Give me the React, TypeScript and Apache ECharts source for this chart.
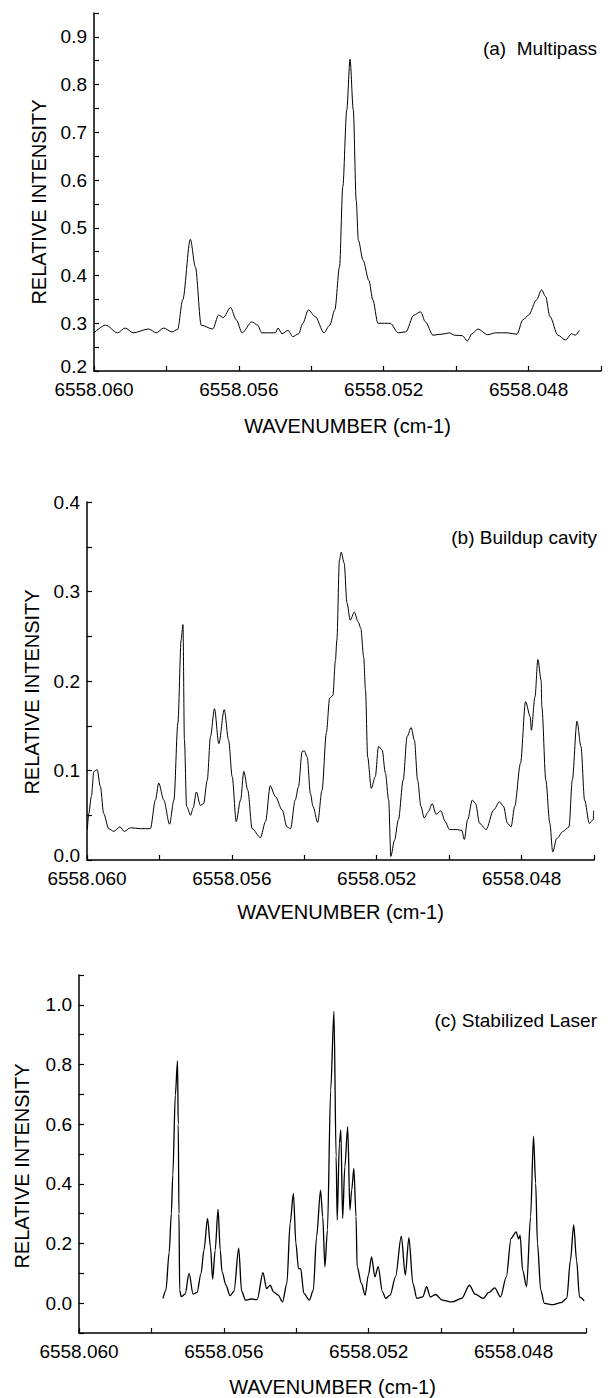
import React, { useEffect, useRef } from "react";
import * as echarts from "echarts";

// ---------- data ----------
const ORIGIN = 6558.06;
const X_TICK_LABELS = ["6558.060", "6558.056", "6558.052", "6558.048"];
const X_TITLE = "WAVENUMBER (cm-1)";
const Y_TITLE = "RELATIVE INTENSITY";
const PANEL_TITLES = ["(a)  Multipass", "(b) Buildup cavity", "(c) Stabilized Laser"];

// [wavenumber (cm-1), relative intensity]
const SPEC_MULTIPASS: [number, number][] = [
  [6558.06, 0.28], [6558.05968, 0.296], [6558.05935, 0.28], [6558.05914, 0.29], [6558.05892, 0.28],
  [6558.05849, 0.288], [6558.05828, 0.28], [6558.05808, 0.29], [6558.05785, 0.282], [6558.05769, 0.287],
  [6558.05755, 0.349], [6558.05734, 0.476], [6558.0572, 0.418], [6558.05704, 0.296], [6558.05672, 0.288],
  [6558.05656, 0.317], [6558.05643, 0.312], [6558.05623, 0.333], [6558.05607, 0.307], [6558.05591, 0.28],
  [6558.05564, 0.303], [6558.05548, 0.296], [6558.05537, 0.28], [6558.05499, 0.28], [6558.05492, 0.29],
  [6558.05481, 0.278], [6558.05464, 0.285], [6558.05451, 0.272], [6558.05435, 0.278], [6558.05424, 0.299],
  [6558.05408, 0.328], [6558.05389, 0.314], [6558.05365, 0.28], [6558.05349, 0.296], [6558.05335, 0.328],
  [6558.05322, 0.418], [6558.05313, 0.586], [6558.05302, 0.747], [6558.05293, 0.853], [6558.05284, 0.747],
  [6558.05276, 0.558], [6558.0527, 0.474], [6558.05257, 0.432], [6558.05241, 0.39], [6558.0523, 0.349],
  [6558.05216, 0.3], [6558.05198, 0.3], [6558.05182, 0.3], [6558.0516, 0.28], [6558.05139, 0.282],
  [6558.05117, 0.317], [6558.05098, 0.324], [6558.05085, 0.303], [6558.05064, 0.275], [6558.05031, 0.278],
  [6558.0502, 0.28], [6558.05004, 0.275], [6558.04983, 0.274], [6558.04969, 0.263], [6558.04956, 0.278],
  [6558.0494, 0.288], [6558.04913, 0.276], [6558.04891, 0.28], [6558.04859, 0.28], [6558.04832, 0.277],
  [6558.04816, 0.307], [6558.048, 0.317], [6558.04778, 0.349], [6558.04764, 0.37], [6558.04753, 0.356],
  [6558.04741, 0.314], [6558.04719, 0.275], [6558.04698, 0.265], [6558.04681, 0.278], [6558.04671, 0.275],
  [6558.0466, 0.285],
];

const SPEC_BUILDUP: [number, number][] = [
  [6558.05999, 0.034], [6558.05995, 0.052], [6558.05988, 0.071], [6558.05981, 0.099], [6558.05972, 0.101],
  [6558.05963, 0.082], [6558.05954, 0.052], [6558.0594, 0.035], [6558.05926, 0.032], [6558.05909, 0.037],
  [6558.05897, 0.032], [6558.0588, 0.036], [6558.05852, 0.035], [6558.05825, 0.035], [6558.05811, 0.067],
  [6558.05802, 0.086], [6558.05788, 0.067], [6558.05772, 0.04], [6558.0576, 0.067], [6558.05749, 0.153],
  [6558.0574, 0.246], [6558.05735, 0.263], [6558.05731, 0.134], [6558.05725, 0.06], [6558.05714, 0.05],
  [6558.05707, 0.058], [6558.05698, 0.076], [6558.05687, 0.061], [6558.05678, 0.063], [6558.05668, 0.089],
  [6558.05659, 0.138], [6558.05648, 0.169], [6558.05636, 0.13], [6558.05621, 0.168], [6558.05609, 0.134],
  [6558.05599, 0.093], [6558.05588, 0.043], [6558.05576, 0.067], [6558.05567, 0.099], [6558.05556, 0.078],
  [6558.05544, 0.035], [6558.05521, 0.025], [6558.05507, 0.043], [6558.05494, 0.083], [6558.0548, 0.071],
  [6558.05461, 0.056], [6558.05448, 0.037], [6558.05438, 0.035], [6558.05425, 0.067], [6558.05416, 0.082],
  [6558.05406, 0.121], [6558.054, 0.122], [6558.05392, 0.115], [6558.05383, 0.074], [6558.05376, 0.06],
  [6558.05363, 0.042], [6558.05351, 0.078], [6558.05339, 0.142], [6558.0533, 0.181], [6558.05321, 0.184],
  [6558.05314, 0.223], [6558.0531, 0.246], [6558.05303, 0.335], [6558.05298, 0.344], [6558.0529, 0.332],
  [6558.05282, 0.287], [6558.05273, 0.268], [6558.05262, 0.277], [6558.05251, 0.266], [6558.05244, 0.259],
  [6558.05236, 0.227], [6558.05231, 0.19], [6558.05225, 0.115], [6558.05215, 0.08], [6558.05204, 0.093],
  [6558.05195, 0.127], [6558.05185, 0.123], [6558.05176, 0.097], [6558.05167, 0.067], [6558.05161, 0.004],
  [6558.05151, 0.022], [6558.0514, 0.045], [6558.05127, 0.089], [6558.05116, 0.138], [6558.05105, 0.148],
  [6558.05096, 0.134], [6558.05087, 0.089], [6558.05078, 0.06], [6558.05069, 0.047], [6558.05057, 0.054],
  [6558.05047, 0.063], [6558.05036, 0.051], [6558.05023, 0.055], [6558.05011, 0.043], [6558.04999, 0.034],
  [6558.04978, 0.034], [6558.04965, 0.033], [6558.04958, 0.023], [6558.04949, 0.045], [6558.04936, 0.067],
  [6558.04927, 0.063], [6558.04916, 0.041], [6558.04898, 0.034], [6558.04877, 0.056], [6558.04861, 0.065],
  [6558.0485, 0.06], [6558.04839, 0.041], [6558.04829, 0.037], [6558.04819, 0.06], [6558.04803, 0.108],
  [6558.04789, 0.177], [6558.04776, 0.16], [6558.04773, 0.145], [6558.04763, 0.182], [6558.04755, 0.224],
  [6558.04746, 0.201], [6558.04744, 0.171], [6558.04733, 0.089], [6558.04722, 0.041], [6558.04714, 0.009],
  [6558.04703, 0.024], [6558.04685, 0.032], [6558.04669, 0.037], [6558.0466, 0.089], [6558.04647, 0.155],
  [6558.04636, 0.127], [6558.04626, 0.067], [6558.04613, 0.041], [6558.04602, 0.045], [6558.04601, 0.055],
];

const SPEC_STABILIZED: [number, number][] = [
  [6558.05768, 0.016], [6558.0576, 0.044], [6558.05751, 0.17], [6558.05745, 0.3], [6558.05741, 0.43],
  [6558.05734, 0.698], [6558.05728, 0.812], [6558.05726, 0.6], [6558.05724, 0.3], [6558.05722, 0.044],
  [6558.05718, 0.022], [6558.05707, 0.03], [6558.05696, 0.1], [6558.05685, 0.03], [6558.05674, 0.036],
  [6558.05663, 0.1], [6558.05655, 0.178], [6558.05645, 0.284], [6558.05637, 0.189], [6558.05631, 0.08],
  [6558.05624, 0.178], [6558.05616, 0.314], [6558.0561, 0.178], [6558.05605, 0.105], [6558.05594, 0.06],
  [6558.05583, 0.025], [6558.05572, 0.04], [6558.05559, 0.184], [6558.05551, 0.04], [6558.0554, 0.01],
  [6558.05525, 0.014], [6558.05508, 0.012], [6558.05492, 0.102], [6558.05482, 0.049], [6558.05472, 0.06],
  [6558.05463, 0.038], [6558.0545, 0.027], [6558.05438, 0.004], [6558.05426, 0.066], [6558.05417, 0.267],
  [6558.05408, 0.368], [6558.05401, 0.2], [6558.05394, 0.116], [6558.05388, 0.116], [6558.05379, 0.033],
  [6558.05364, 0.01], [6558.05353, 0.044], [6558.05344, 0.222], [6558.05333, 0.379], [6558.05327, 0.29],
  [6558.05321, 0.122], [6558.05314, 0.245], [6558.05305, 0.715], [6558.05296, 0.978], [6558.0529, 0.491],
  [6558.05287, 0.279], [6558.05281, 0.536], [6558.05277, 0.581], [6558.05272, 0.284], [6558.05266, 0.457],
  [6558.05258, 0.592], [6558.05252, 0.312], [6558.05247, 0.379], [6558.05241, 0.452], [6558.05235, 0.29],
  [6558.05232, 0.122], [6558.0522, 0.066], [6558.0521, 0.027], [6558.05201, 0.094], [6558.05192, 0.155],
  [6558.05183, 0.088], [6558.05174, 0.122], [6558.05162, 0.038], [6558.05153, 0.016], [6558.05141, 0.027],
  [6558.05126, 0.088], [6558.0511, 0.225], [6558.05099, 0.094], [6558.05089, 0.22], [6558.05078, 0.066],
  [6558.05067, 0.016], [6558.05051, 0.021], [6558.0504, 0.055], [6558.0503, 0.021], [6558.05015, 0.029],
  [6558.04997, 0.01], [6558.0497, 0.004], [6558.04943, 0.016], [6558.04922, 0.06], [6558.04906, 0.03],
  [6558.04884, 0.016], [6558.04868, 0.036], [6558.04852, 0.051], [6558.04836, 0.021], [6558.0482, 0.088],
  [6558.04807, 0.217], [6558.04793, 0.239], [6558.04786, 0.215], [6558.04782, 0.228], [6558.04775, 0.111],
  [6558.04764, 0.055], [6558.04753, 0.29], [6558.04745, 0.56], [6558.04739, 0.402], [6558.04734, 0.2],
  [6558.04725, 0.044], [6558.04715, -0.001], [6558.04691, -0.005], [6558.04669, 0.002], [6558.04653, 0.016],
  [6558.04643, 0.144], [6558.04634, 0.262], [6558.04626, 0.144], [6558.04618, 0.021], [6558.04605, 0.008],
];

const SPECTRA = [SPEC_MULTIPASS, SPEC_BUILDUP, SPEC_STABILIZED];

// y-axis ranges per panel
const Y_MIN = [0.2, 0.0, -0.1];
const Y_MAX = [0.95, 0.4, 1.1];
const Y_TICK_STEP = [0.05, 0.05, 0.1];
const Y_LABEL_STEP = [0.1, 0.1, 0.2];

// ---------- layout (not data) ----------
const LAYOUT = [
  { left: 94, top: 13, nameGap: 45, yTitleX: 39, yTitleY: 202, labelY: 48 },
  { left: 87, top: 502, nameGap: 42, yTitleX: 32, yTitleY: 692, labelY: 537 },
  { left: 79, top: 975, nameGap: 44, yTitleX: 22, yTitleY: 1166, labelY: 1020 },
];
const GRID_W = 507;
const GRID_H = 358;
const FONT = "'Liberation Sans', Arial, Helvetica, sans-serif";

const toOffset = (wn: number) => Math.round((ORIGIN - wn) * 100000) / 100;

export default function App() {
  const ref = useRef<HTMLDivElement>(null);

  useEffect(() => {
    if (!ref.current) return;
    const chart = echarts.init(ref.current, undefined, { renderer: "svg" });

    const grid = LAYOUT.map((l) => ({ left: l.left, top: l.top, width: GRID_W, height: GRID_H }));

    const xAxis = LAYOUT.map((l, i) => ({
      type: "value",
      gridIndex: i,
      min: 0,
      max: 14,
      interval: 2,
      axisLine: { show: true, onZero: false, lineStyle: { color: "#000", width: 1.5 } },
      axisTick: { show: true, inside: true, length: 5, lineStyle: { color: "#000", width: 1.2 } },
      axisLabel: {
        show: true,
        margin: 11,
        color: "#000",
        fontSize: 19,
        lineHeight: 15,
        fontFamily: FONT,
        formatter: (v: number) => {
          const k = Math.round(v);
          return k % 4 === 0 ? X_TICK_LABELS[k / 4] ?? "" : "";
        },
      },
      splitLine: { show: false },
      name: X_TITLE,
      nameLocation: "middle",
      nameGap: l.nameGap,
      nameTextStyle: { color: "#000", fontSize: 20, fontFamily: FONT },
    }));

    const yAxis = LAYOUT.map((l, i) => ({
      type: "value",
      gridIndex: i,
      min: Y_MIN[i],
      max: Y_MAX[i],
      interval: Y_TICK_STEP[i],
      axisLine: { show: true, onZero: false, lineStyle: { color: "#000", width: 1.5 } },
      axisTick: { show: true, inside: true, length: 5, lineStyle: { color: "#000", width: 1.2 } },
      axisLabel: {
        show: true,
        margin: 7,
        color: "#000",
        fontSize: 19,
        lineHeight: 15,
        fontFamily: FONT,
        rich: {
          lo: { fontSize: 19, fontFamily: FONT, color: "#000", padding: [0, 0, 10, 0] },
        },
        formatter: (v: number) => {
          const n = Math.round(v / Y_TICK_STEP[i]);
          const per = Math.round(Y_LABEL_STEP[i] / Y_TICK_STEP[i]);
          if (v < -1e-9) return "";
          if (n % per !== 0) return "";
          const s = v.toFixed(1);
          return Math.abs(v - Y_MIN[i]) < 1e-9 ? `{lo|${s}}` : s;
        },
      },
      splitLine: { show: false },
    }));

    const series = SPECTRA.map((d, i) => ({
      type: "line",
      xAxisIndex: i,
      yAxisIndex: i,
      data: d.map(([w, v]) => [toOffset(w), v]),
      symbol: "none",
      showSymbol: false,
      smooth: 0.3,
      smoothMonotone: "x",
      lineStyle: { color: "#000", width: i === 2 ? 1.3 : 1 },
      silent: true,
    }));

    const graphic: any[] = [];
    LAYOUT.forEach((l, i) => {
      graphic.push({
        type: "text",
        x: l.yTitleX,
        y: l.yTitleY,
        rotation: Math.PI / 2,
        style: {
          text: Y_TITLE,
          fill: "#000",
          fontSize: 20,
          fontFamily: FONT,
          align: "center",
          verticalAlign: "middle",
        },
      });
      graphic.push({
        type: "text",
        x: 597,
        y: l.labelY,
        style: {
          text: PANEL_TITLES[i],
          fill: "#000",
          fontSize: 19,
          fontFamily: FONT,
          align: "right",
          verticalAlign: "middle",
        },
      });
    });

    chart.setOption({
      animation: false,
      backgroundColor: "#fff",
      grid,
      xAxis,
      yAxis,
      series,
      graphic,
    } as any);

    return () => chart.dispose();
  }, []);

  return (
    <div
      ref={ref}
      style={{ position: "absolute", left: 0, top: 0, width: 611, height: 1398, background: "#fff" }}
    />
  );
}
